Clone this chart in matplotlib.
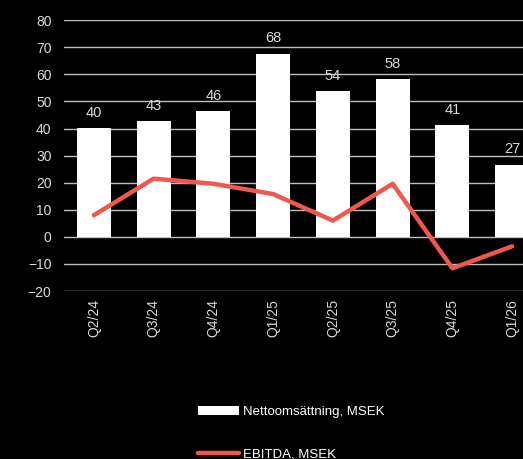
import numpy as np
import matplotlib.pyplot as plt
from matplotlib.patches import Patch
from matplotlib.lines import Line2D

plt.rcParams['font.family'] = ['Liberation Sans', 'DejaVu Sans']

quarters = ['Q2/24', 'Q3/24', 'Q4/24', 'Q1/25', 'Q2/25', 'Q3/25', 'Q4/25', 'Q1/26']
net_sales = [40.2, 42.6, 46.3, 67.6, 53.7, 58.3, 41.2, 26.6]
ebitda = [8.0, 21.5, 19.6, 15.8, 6.0, 19.6, -11.6, -3.5]
yticks = [-20, -10, 0, 10, 20, 30, 40, 50, 60, 70, 80]

text_col = '#D9D9D9'
line_col = '#F0574F'

fig = plt.figure(figsize=(5.23, 4.59), dpi=100, facecolor='black')
# axes runs past the right edge like in the original screenshot
ax = fig.add_axes([0.1224, 0.366, 0.914, 0.59])
ax.set_facecolor('black')

x = np.arange(len(quarters))
ax.set_ylim(-20, 80)
ax.set_xlim(-0.5, len(quarters) - 0.5)
ax.set_yticks(yticks)
ax.grid(axis='y', color='#BFBFBF', linewidth=1.0, zorder=0)
ax.set_axisbelow(True)

bars = ax.bar(x, net_sales, width=0.57, color='white', zorder=2)
ax.plot(x, ebitda, color=line_col, linewidth=3.2, solid_capstyle='round', zorder=3)

for xi, v in zip(x, net_sales):
    ax.annotate(f'{v:.0f}', (xi, v), xytext=(0, 6), textcoords='offset points',
                ha='center', va='bottom', color=text_col, fontsize=10.5)

ax.set_xticks(x)
ax.set_xticklabels(quarters, rotation=90, va='top')
ax.tick_params(axis='both', length=0, colors=text_col, labelsize=10)
ax.tick_params(axis='y', pad=9)
ax.tick_params(axis='x', pad=6)
for s in ax.spines.values():
    s.set_visible(False)

handles = [Patch(facecolor='white', edgecolor='none'),
           Line2D([0], [0], color=line_col, linewidth=3.2, solid_capstyle='round')]
labels = ['Nettoomsättning, MSEK', 'EBITDA, MSEK']
leg = fig.legend(handles, labels, loc='upper left', bbox_to_anchor=(0.369, 0.127),
                 frameon=False, fontsize=9.5, handlelength=3.1, handleheight=0.6,
                 handletextpad=0.3, labelspacing=2.3, borderaxespad=0)
for t in leg.get_texts():
    t.set_color('white')

fig.savefig('out.png', dpi=100, facecolor='black')
